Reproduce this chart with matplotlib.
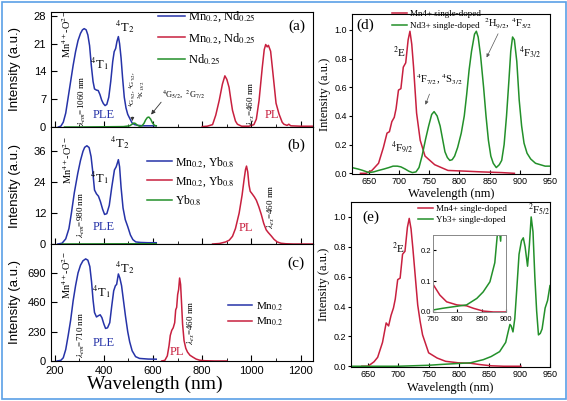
import matplotlib
matplotlib.use('Agg')
import matplotlib.pyplot as plt
from matplotlib.patches import Rectangle

plt.rcParams['font.family'] = ['Liberation Serif', 'DejaVu Serif']
plt.rcParams['mathtext.fontset'] = 'stix'

BLUE = '#2633a8'
RED = '#c8203f'
GREEN = '#23902a'
SANS = 'Liberation Sans'

# ---- panel (a): Mn0.2, Nd0.25 ----
a_ple_wl = [215, 225, 235, 245, 255, 265, 275, 285, 295, 305, 313, 320, 328, 335, 342, 349, 356, 362,
            370, 377, 384, 391, 398, 405, 412, 420, 428, 436, 442, 448, 453, 459, 464, 470, 476, 483,
            490, 497, 505, 515, 525, 540, 560, 580, 600, 613]
a_ple = [0, 0.2, 1.2, 3.5, 7.5, 11.5, 15.5, 19, 21.8, 23.6, 24.5, 24.8, 24.5, 23.2, 20.5, 15.5, 11.5, 9.6,
         9.3, 9.2, 8.2, 6.8, 5.9, 5.4, 5.7, 7.5, 11.5, 16.5, 19.0, 19.8, 21.5, 22.8, 21.0, 17.4, 12.5, 7.5,
         4.8, 3.2, 2.2, 1.0, 0.6, 0.4, 0.3, 0.3, 0.3, 0.3]
a_nd_wl = [240, 300, 400, 480, 505, 515, 522, 528, 535, 545, 555, 563, 570, 577, 583, 590, 598, 606, 613]
a_nd = [0, 0, 0.05, 0.1, 0.3, 0.7, 1.0, 0.9, 0.5, 0.2, 0.3, 0.9, 1.8, 2.4, 2.5, 2.0, 1.0, 0.4, 0.3]
a_pl_wl = [800, 820, 842, 855, 869, 882, 892, 900, 909, 916, 923, 935, 943, 960, 990, 1010, 1020, 1031,
           1044, 1052, 1058, 1064, 1069, 1078, 1085, 1092, 1100, 1112, 1125, 1132, 1145, 1152, 1160,
           1200, 1250]
a_pl = [0.1, 0.2, 0.6, 3.0, 6.7, 10.8, 12.9, 12.0, 10.0, 7.0, 4.2, 1.5, 0.7, 0.2, 0.2, 0.6, 2.0, 6.7,
        15.0, 19.5, 20.8, 20.2, 20.6, 19.1, 15.0, 10.8, 6.0, 3.3, 1.2, 0.7, 0.4, 0.7, 0.3, 0.2, 0.2]

# ---- panel (b): Mn0.2, Yb0.8 ----
b_ple_wl = [213, 230, 245, 258, 268, 280, 294, 305, 315, 322, 331, 340, 348, 355, 362, 370, 378, 386,
            395, 403, 412, 422, 432, 443, 450, 455, 459, 464, 470, 478, 487, 497, 508, 518, 530, 550,
            580, 613]
b_ple = [0, 0.3, 2, 6, 12, 20, 27.5, 32.5, 36, 37.6, 38.2, 37.5, 34, 28, 21, 19.5, 18.6, 16.5,
         13.5, 11.5, 11.8, 15, 22, 28.8, 30, 31.5, 32.8, 30, 22, 14, 9.5, 6.8, 3.5, 1.7, 0.8, 0.6,
         0.5, 0.5]
b_yb_wl = [230, 400, 613]
b_yb = [0, 0.05, 0.1]
b_pl_wl = [842, 870, 895, 910, 923, 935, 950, 962, 970, 976, 980, 985, 990, 995, 1003, 1012, 1020,
           1030, 1040, 1050, 1060, 1068, 1080, 1092, 1105, 1120, 1140, 1170, 1250]
b_pl = [0, 0.2, 0.8, 1.5, 3, 6, 12, 19, 25, 29, 30.3, 28, 23, 20.5, 19.5, 18.3, 17, 14.5, 11.5, 8,
        5.5, 4.5, 3.2, 1.8, 0.8, 0.3, 0.1, 0, 0]

# ---- panel (c): Mn0.2 ----
c_ple_wl = [210, 225, 235, 245, 255, 265, 275, 285, 295, 305, 315, 326, 335, 343, 350, 356, 362, 370,
            378, 385, 392, 400, 407, 415, 424, 432, 440, 447, 452, 459, 465, 472, 480, 488, 497, 505,
            515, 529, 545, 580, 613]
c_ple = [0, 5, 25, 90, 200, 320, 470, 590, 690, 750, 785, 800, 790, 740, 620, 480, 380, 345,
         355, 362, 340, 290, 255, 260, 300, 430, 550, 590, 600, 682, 650, 590, 470, 350, 230, 150,
         80, 34, 20, 15, 14]
c_pl_wl = [635, 648, 658, 665, 670, 676, 682, 688, 692, 696, 700, 704, 708, 712, 716, 720, 726, 733,
           740, 750, 762, 775, 790, 810, 850, 900]
c_pl = [0, 5, 40, 120, 200, 240, 260, 300, 400, 420, 520, 560, 650, 600, 450, 290, 160, 100, 70, 45,
        30, 15, 6, 2, 0, 0]

# ---- panel (d): normalised spectra ----
d_mn_wl = [636, 645, 655, 666, 674, 680, 684, 688, 692, 695, 699, 703, 707, 711, 715, 718, 721, 724,
           729, 735, 743, 759, 781, 810, 836, 870, 891]
d_mn = [0, 0, 0.02, 0.07, 0.18, 0.28, 0.29, 0.36, 0.39, 0.45, 0.58, 0.59, 0.74, 0.77, 0.93, 0.99,
        0.9, 0.74, 0.42, 0.23, 0.12, 0.06, 0.02, 0.015, 0.01, 0.005, 0]
d_nd_wl = [622, 632, 640, 650, 658, 666, 675, 683, 690, 697, 703, 710, 716, 722, 728, 733, 738, 744,
           749, 754, 758, 763, 768, 772, 776, 780, 784, 788, 792, 797, 803, 808, 812, 816, 820, 825,
           828, 831, 835, 840, 844, 848, 852, 856, 861, 866, 870, 874, 878, 882, 885, 888, 891, 895,
           899, 903, 907, 912, 918, 926, 934, 942, 950]
d_nd = [0.04, 0.03, 0.02, 0.005, 0.01, 0.02, 0.03, 0.04, 0.05, 0.05, 0.045, 0.03, 0.015, 0.005, 0.01,
        0.04, 0.12, 0.24, 0.33, 0.41, 0.43, 0.40, 0.33, 0.24, 0.15, 0.11, 0.09, 0.095, 0.12, 0.18,
        0.28, 0.4, 0.55, 0.72, 0.85, 0.97, 0.99, 0.95, 0.82, 0.6, 0.4, 0.23, 0.12, 0.07, 0.04, 0.06,
        0.09, 0.2, 0.4, 0.65, 0.85, 0.95, 0.93, 0.78, 0.51, 0.33, 0.21, 0.14, 0.1, 0.07, 0.06, 0.05,
        0.05]

# ---- panel (e): normalised spectra ----
e_mn_wl = [640, 650, 660, 666, 674, 680, 684, 688, 692, 695, 699, 703, 707, 711, 715, 718, 721, 724,
           728, 732, 736, 740, 745, 750, 764, 778, 799, 819, 833, 853, 874, 902]
e_mn = [0, 0, 0.03, 0.06, 0.16, 0.29, 0.27, 0.34, 0.39, 0.45, 0.58, 0.59, 0.75, 0.77, 0.93, 0.99,
        0.92, 0.79, 0.6, 0.41, 0.3, 0.21, 0.15, 0.09, 0.055, 0.033, 0.023, 0.02, 0.012, 0.003, 0,
        0]
e_yb_wl = [625, 700, 738, 750, 770, 792, 819, 840, 853, 867, 877, 881, 884, 886, 889, 892, 895, 899,
           903, 906, 909, 913, 916, 919, 922, 925, 928, 931, 934, 937, 942, 946, 950]
e_yb = [0, 0, 0.005, 0.0065, 0.012, 0.017, 0.023, 0.044, 0.065, 0.098, 0.16, 0.23, 0.28, 0.27, 0.23,
        0.32, 0.5, 0.75, 0.84, 0.86, 0.8, 0.67, 0.81, 1.0, 0.9, 0.6, 0.37, 0.21, 0.22, 0.25, 0.39, 0.44,
        0.54]

fig = plt.figure(figsize=(5.67, 4.01), dpi=100)
axa = fig.add_axes([0.0899, 0.6833, 0.462, 0.2868])
axb = fig.add_axes([0.0899, 0.3915, 0.462, 0.2918])
axc = fig.add_axes([0.0899, 0.0998, 0.462, 0.2918])
axd = fig.add_axes([0.6208, 0.566, 0.3492, 0.399])
axe = fig.add_axes([0.619, 0.0848, 0.351, 0.4115])
axi = fig.add_axes([0.7637, 0.222, 0.1287, 0.192])

lw = 1.1
for ax in (axa, axb, axc):
    ax.set_xlim(185, 1250)
    ax.set_xticks([200, 400, 600, 800, 1000, 1200])
    ax.set_xticks(range(300, 1250, 200), minor=True)
    ax.tick_params(direction='in', length=4, labelsize=8, labelfontfamily=SANS)
    ax.tick_params(which='minor', direction='in', length=2)
    ax.set_ylabel('Intensity (a.u.)', family=SANS, fontsize=9.5)
    ax.yaxis.set_label_coords(-0.115, 0.5)
axa.tick_params(labelbottom=False)
axb.tick_params(labelbottom=False)

# (a)
axa.plot(a_ple_wl, a_ple, color=BLUE, lw=lw, label='Mn$_{0.2}$, Nd$_{0.25}$')
axa.plot(a_pl_wl, a_pl, color=RED, lw=lw, label='Mn$_{0.2}$, Nd$_{0.25}$')
axa.plot(a_nd_wl, a_nd, color=GREEN, lw=lw, label='Nd$_{0.25}$')
axa.set_ylim(0, 29)
axa.set_yticks([0, 7, 14, 21, 28])
axa.legend(loc='upper left', bbox_to_anchor=(0.41, 1.02), frameon=False, fontsize=9,
           handlelength=2.1, handletextpad=0.3, labelspacing=0.55, borderpad=0, borderaxespad=0)
axa.text(249, 23.5, 'Mn$^{4+}$-O$^{2-}$', rotation=90, ha='center', va='center', fontsize=7.5)
axa.text(313, 6.6, r'$\lambda_{em}$=1060 nm', rotation=90, ha='center', va='center', fontsize=6.5)
axa.text(382, 15.9, '$^4$T$_1$', ha='center', va='center', fontsize=9)
axa.text(484, 25.4, '$^4$T$_2$', ha='center', va='center', fontsize=9)
axa.text(398, 2.9, 'PLE', color=BLUE, ha='center', va='center', fontsize=9)
axa.text(535, 9.5, '$^4$G$_{9/2}$, $^4$G$_{7/2}$,\n$^2$K$_{13/2}$', rotation=90, ha='center',
         va='center', fontsize=5, linespacing=0.9)
axa.annotate('', xy=(516, 0.8), xytext=(516, 3.2),
             arrowprops=dict(arrowstyle='-|>', color='#333333', lw=0.6, mutation_scale=5))
axa.text(725, 8.4, '$^4$G$_{5/2}$,  $^2$G$_{7/2}$', ha='center', va='center', fontsize=6)
axa.annotate('', xy=(585, 2.6), xytext=(640, 6.8),
             arrowprops=dict(arrowstyle='-|>', color='#333333', lw=0.6, mutation_scale=6))
axa.text(999, 5.9, r'$\lambda_{ex}$=460 nm', rotation=90, ha='center', va='center', fontsize=6.5)
axa.text(1084, 2.9, 'PL', color=RED, ha='center', va='center', fontsize=9)
axa.text(1185, 25.5, '(a)', ha='center', va='center', fontsize=11)

# (b)
axb.plot(b_ple_wl, b_ple, color=BLUE, lw=lw, label='Mn$_{0.2}$, Yb$_{0.8}$')
axb.plot(b_pl_wl, b_pl, color=RED, lw=lw, label='Mn$_{0.2}$, Yb$_{0.8}$')
axb.plot(b_yb_wl, b_yb, color=GREEN, lw=lw, label='Yb$_{0.8}$')
axb.set_ylim(0, 45.5)
axb.set_yticks([0, 12, 24, 36])
axb.legend(loc='upper left', bbox_to_anchor=(0.366, 0.76), frameon=False, fontsize=8.5,
           handlelength=2.1, handletextpad=0.3, labelspacing=0.4, borderpad=0, borderaxespad=0)
axb.text(253, 32.7, 'Mn$^{4+}$-O$^{2-}$', rotation=90, ha='center', va='center', fontsize=7.5)
axb.text(309, 11.4, r'$\lambda_{em}$=980 nm', rotation=90, ha='center', va='center', fontsize=6.5)
axb.text(382, 26, '$^4$T$_1$', ha='center', va='center', fontsize=9)
axb.text(463, 39.5, '$^4$T$_2$', ha='center', va='center', fontsize=9)
axb.text(398, 6.7, 'PLE', color=BLUE, ha='center', va='center', fontsize=9)
axb.text(1080, 14.5, r'$\lambda_{ex}$=460 nm', rotation=90, ha='center', va='center', fontsize=6.5)
axb.text(978, 6.3, 'PL', color=RED, ha='center', va='center', fontsize=9)
axb.text(1181, 38.5, '(b)', ha='center', va='center', fontsize=11)

# (c)
axc.plot(c_ple_wl, c_ple, color=BLUE, lw=lw, label='Mn$_{0.2}$')
axc.plot(c_pl_wl, c_pl, color=RED, lw=lw, label='Mn$_{0.2}$')
axc.set_ylim(0, 917)
axc.set_yticks([0, 230, 460, 690])
axc.legend(loc='upper left', bbox_to_anchor=(0.676, 0.52), frameon=False, fontsize=8,
           handlelength=2.2, handletextpad=0.3, labelspacing=0.3, borderpad=0, borderaxespad=0)
axc.text(249, 675, 'Mn$^{4+}$-O$^{2-}$', rotation=90, ha='center', va='center', fontsize=7.5)
axc.text(309, 204, r'$\lambda_{em}$=710 nm', rotation=90, ha='center', va='center', fontsize=6.5)
axc.text(390, 541, '$^4$T$_1$', ha='center', va='center', fontsize=9)
axc.text(484, 729, '$^4$T$_2$', ha='center', va='center', fontsize=9)
axc.text(398, 141, 'PLE', color=BLUE, ha='center', va='center', fontsize=9)
axc.text(699, 70, 'PL', color=RED, ha='center', va='center', fontsize=9)
axc.text(755, 298, r'$\lambda_{ex}$=460 nm', rotation=90, ha='center', va='center', fontsize=6.5)
axc.text(1181, 769, '(c)', ha='center', va='center', fontsize=11)
axc.set_xlabel('Wavelength (nm)', fontsize=14)
axc.xaxis.set_label_coords(0.397, -0.125)

# right panels
for ax in (axd, axe):
    ax.set_xlim(622, 950)
    ax.set_xticks([650, 700, 750, 800, 850, 900, 950])
    ax.set_yticks([0.0, 0.2, 0.4, 0.6, 0.8, 1.0])
    ax.tick_params(axis='x', direction='in', length=3, labelsize=6.5, labelfontfamily=SANS, pad=2)
    ax.tick_params(axis='y', direction='out', length=2, labelsize=6.5, labelfontfamily=SANS, pad=1.5)
    ax.set_ylabel('Intensity (a.u.)', fontsize=9)
    ax.set_xlabel('Wavelength (nm)', fontsize=9, labelpad=0)
    ax.yaxis.set_label_coords(-0.105, 0.5)

axd.plot(d_mn_wl, d_mn, color=RED, lw=lw, label='Mn4+ single-doped')
axd.plot(d_nd_wl, d_nd, color=GREEN, lw=lw, label='Nd3+ single-doped')
axd.set_ylim(-0.005, 1.11)
axd.legend(loc='upper left', bbox_to_anchor=(0.2, 1.025), frameon=False, fontsize=6.5,
           handlelength=1.7, handletextpad=0.3, labelspacing=0.35, borderpad=0, borderaxespad=0)
axd.text(644, 1.03, '(d)', ha='center', va='center', fontsize=11)
axd.text(700, 0.84, '$^2$E', ha='center', va='center', fontsize=8)
axd.text(767, 0.65, '$^4$F$_{7/2}$, $^4$S$_{3/2}$', ha='center', va='center', fontsize=7.5)
axd.annotate('', xy=(742, 0.46), xytext=(752, 0.57),
             arrowprops=dict(arrowstyle='-|>', color='#555555', lw=0.5, mutation_scale=5))
axd.text(880, 1.04, '$^2$H$_{9/2}$, $^4$F$_{5/2}$', ha='center', va='center', fontsize=7.5)
axd.annotate('', xy=(843, 0.79), xytext=(866, 0.99),
             arrowprops=dict(arrowstyle='-|>', color='#555555', lw=0.5, mutation_scale=5))
axd.text(918, 0.84, '$^4$F$_{3/2}$', ha='center', va='center', fontsize=8)
axd.text(705, 0.18, '$^4$F$_{9/2}$', ha='center', va='center', fontsize=8)
axd.xaxis.set_label_coords(0.5, -0.085)

axe.plot(e_mn_wl, e_mn, color=RED, lw=lw, label='Mn4+ single-doped')
axe.plot(e_yb_wl, e_yb, color=GREEN, lw=lw, label='Yb3+ single-doped')
axe.set_ylim(-0.005, 1.1)
axe.legend(loc='upper left', bbox_to_anchor=(0.337, 0.985), frameon=False, fontsize=6.5,
           handlelength=1.7, handletextpad=0.3, labelspacing=0.3, borderpad=0, borderaxespad=0)
axe.text(655, 1.0, '(e)', ha='center', va='center', fontsize=11)
axe.text(700, 0.79, '$^2$E', ha='center', va='center', fontsize=8)
axe.text(933, 1.05, '$^2$F$_{5/2}$', ha='center', va='center', fontsize=8)
axe.xaxis.set_label_coords(0.5, -0.09)

# inset
axi.plot(e_mn_wl, e_mn, color=RED, lw=lw)
axi.plot(e_yb_wl, e_yb, color=GREEN, lw=lw)
axi.set_xlim(750, 900)
axi.set_ylim(0, 0.25)
axi.set_xticks([750, 800, 850, 900])
axi.set_yticks([0.0, 0.1, 0.2])
axi.tick_params(direction='in', length=2, labelsize=5.5, labelfontfamily=SANS, pad=1.5)
axi.tick_params(axis='x', pad=3)
for sp in axi.spines.values():
    sp.set_color('#888888')
    sp.set_linewidth(0.7)

fig.patches.append(Rectangle((1.5 / 567, 2 / 401), 564 / 567, 397 / 401, transform=fig.transFigure,
                             fill=False, edgecolor='#5aa0e6', lw=1.2))

fig.savefig('out.png', dpi=100)
